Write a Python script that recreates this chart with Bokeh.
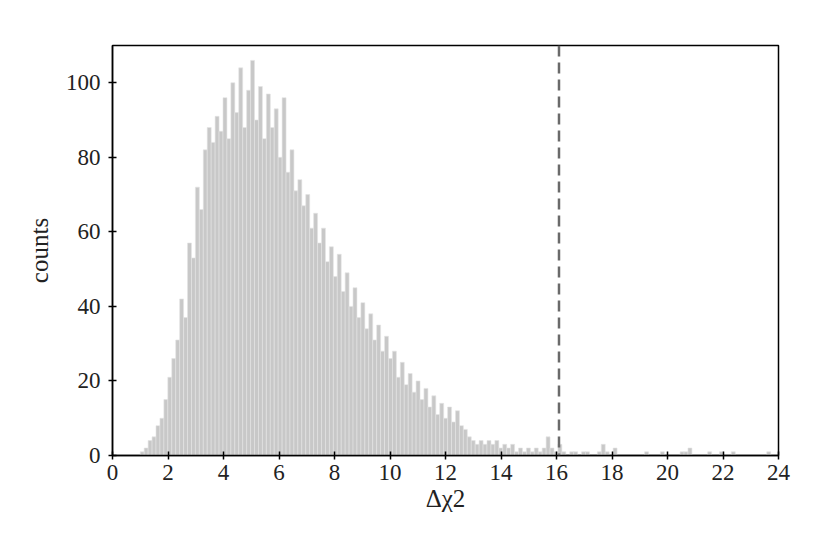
from bokeh.plotting import figure
from bokeh.models import Span, Range1d, FixedTicker
from bokeh.embed import file_html
from bokeh.resources import INLINE

# histogram layout
bin_start = 1.0
bin_width = 0.142

# counts per bin
counts = [
    1, 2, 4, 5, 8, 10, 15, 21, 26, 31,
    42, 37, 57, 53, 72, 66, 82, 88, 84, 91,
    87, 96, 85, 100, 92, 104, 88, 98, 106, 90,
    99, 85, 97, 88, 93, 80, 96, 76, 82, 71,
    74, 67, 70, 61, 65, 57, 61, 52, 56, 48,
    54, 44, 49, 40, 45, 37, 41, 34, 38, 31,
    35, 28, 32, 26, 28, 21, 25, 19, 22, 17,
    20, 15, 18, 13, 16, 11, 14, 10, 13, 9,
    12, 8, 7, 5, 4, 3, 4, 3, 4, 3,
    4, 2, 3, 2, 3, 1, 2, 1, 2, 1,
    2, 1, 2, 5, 2, 1, 3, 1, 0, 1,
    1, 0, 1, 1, 0, 0, 1, 3, 1, 0,
    2, 0, 0, 0, 0, 0, 0, 0, 1, 0,
    0, 0, 1, 0, 0, 0, 0, 1, 1, 2,
    0, 0, 0, 0, 1, 0, 0, 1, 0, 0,
    1, 0, 0, 0, 0, 0, 0, 0, 0, 1,
]

threshold = 16.09
x_ticks = [0, 2, 4, 6, 8, 10, 12, 14, 16, 18, 20, 22, 24]
y_ticks = [0, 20, 40, 60, 80, 100]

n = len(counts)
left = [bin_start + bin_width * i for i in range(n)]
right = [bin_start + bin_width * (i + 1) for i in range(n)]

p = figure(width=812, height=536, output_backend="svg", toolbar_location=None,
           x_range=Range1d(0, 24), y_range=Range1d(0, 110),
           min_border_left=112, min_border_right=34,
           min_border_top=45, min_border_bottom=81)

p.quad(left=left, right=right, bottom=0, top=counts,
       fill_color="#c8c8c8", line_color="#e4e4e4", line_width=0.6)

p.add_layout(Span(location=threshold, dimension="height", line_color="#6a6a6a",
                  line_width=2.5, line_dash="11 6"))

font = "Liberation Serif"
p.grid.visible = False
p.outline_line_color = "black"
p.outline_line_width = 1.5
p.background_fill_color = "white"
p.border_fill_color = "white"

p.xaxis.ticker = FixedTicker(ticks=x_ticks)
p.yaxis.ticker = FixedTicker(ticks=y_ticks)
for ax in (p.xaxis, p.yaxis):
    ax.axis_line_color = "black"
    ax.axis_line_width = 1.5
    ax.major_tick_line_color = "black"
    ax.major_tick_line_width = 1.5
    ax.major_tick_in = 4
    ax.major_tick_out = 4
    ax.minor_tick_line_color = None
    ax.major_label_text_font = font
    ax.major_label_text_font_size = "23px"
    ax.major_label_text_color = "#222222"
    ax.axis_label_text_font = font
    ax.axis_label_text_font_size = "25px"
    ax.axis_label_text_font_style = "normal"
    ax.axis_label_text_color = "#222222"

p.xaxis.axis_label = "Δχ2"
p.yaxis.axis_label = "counts"
p.xaxis.major_label_standoff = 5
p.yaxis.major_label_standoff = 8
p.xaxis.axis_label_standoff = 2
p.yaxis.axis_label_standoff = 10

open("out.html", "w").write(file_html(p, INLINE))
